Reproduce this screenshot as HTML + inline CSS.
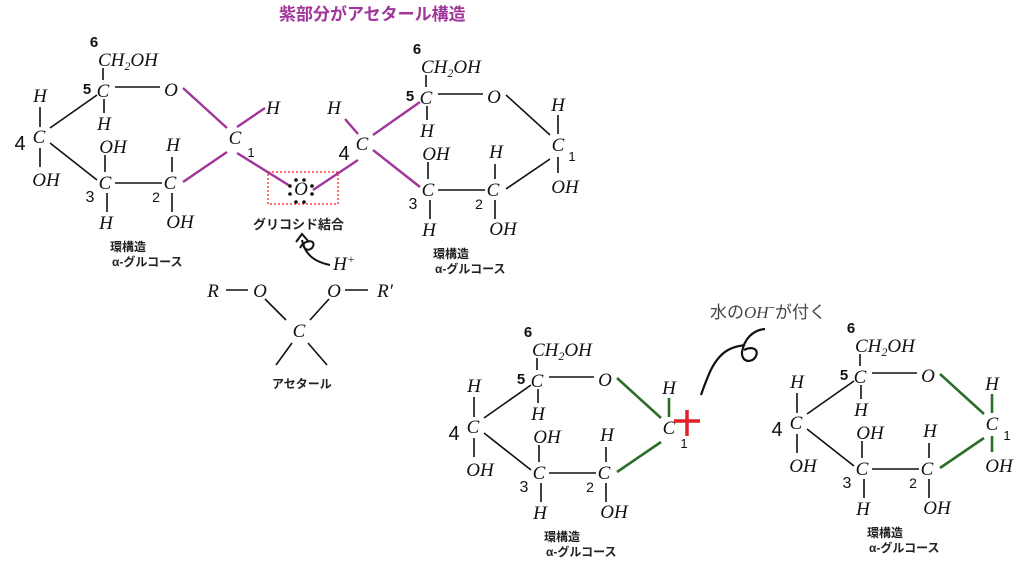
<!DOCTYPE html>
<html><head><meta charset="utf-8"><style>
html,body{margin:0;padding:0;background:#fff;}
svg{display:block}
.t{font-family:"Liberation Serif",serif;font-style:italic;font-size:19px;fill:#111;text-anchor:middle}
.n{font-family:"Liberation Sans",sans-serif;font-size:17px;fill:#111;text-anchor:middle;font-weight:bold}
.j{font-family:"Liberation Sans","Noto Sans CJK JP",sans-serif;font-size:12px;font-weight:bold;fill:#222}
line{stroke:#111;stroke-width:1.6}
.p{stroke:#a0359a;stroke-width:2.4}
.g{stroke:#2a6e2a;stroke-width:2.6}
.r{stroke:#e0202a;stroke-width:3.5}
</style></head><body>
<svg width="1024" height="583" viewBox="0 0 1024 583" xmlns="http://www.w3.org/2000/svg">
<defs>
<g id="core">
  <text class="n" x="94" y="47" style="font-size:15px">6</text>
  <text class="t" x="98" y="66" style="text-anchor:start">CH<tspan font-size="12" dy="4">2</tspan><tspan dy="-4">OH</tspan></text>
  <line x1="103" y1="68" x2="103" y2="80"/>
  <text class="t" x="103" y="97">C</text>
  <text class="n" x="87" y="94" style="font-size:15px">5</text>
  <line x1="115" y1="87" x2="160" y2="87"/>
  <text class="t" x="171" y="96">O</text>
  <line x1="104" y1="99" x2="104" y2="113"/>
  <text class="t" x="104" y="130">H</text>
  <text class="t" x="113" y="153">OH</text>
  <line x1="105" y1="155" x2="105" y2="172"/>
  <text class="t" x="105" y="189">C</text>
  <text class="n" x="90" y="202" style="font-size:16px;font-weight:normal">3</text>
  <line x1="107" y1="193" x2="107" y2="212"/>
  <text class="t" x="106" y="229">H</text>
  <line x1="115" y1="183" x2="162" y2="183"/>
  <text class="t" x="173" y="151">H</text>
  <line x1="172" y1="157" x2="172" y2="172"/>
  <text class="t" x="170" y="189">C</text>
  <text class="n" x="156" y="202" style="font-size:14px;font-weight:normal">2</text>
  <line x1="172" y1="193" x2="172" y2="212"/>
  <text class="t" x="180" y="228">OH</text>
  <text class="j" x="110" y="251">環構造</text>
  <text class="j" x="112" y="266">α-グルコース</text>
</g>
<g id="c4">
  <text class="t" x="40" y="102">H</text>
  <line x1="40" y1="107" x2="40" y2="127"/>
  <text class="t" x="39" y="143">C</text>
  <text class="n" x="20" y="150" style="font-size:20px;font-weight:normal">4</text>
  <line x1="40" y1="148" x2="40" y2="167"/>
  <text class="t" x="46" y="186">OH</text>
  <line x1="50" y1="128" x2="97" y2="95"/>
  <line x1="50" y1="143" x2="97" y2="180"/>
</g>
</defs>

<text x="279" y="20" style="font-family:'Liberation Sans','Noto Sans CJK JP',sans-serif;font-size:17px;font-weight:bold;fill:#a0359a">紫部分がアセタール構造</text>

<!-- top-left ring -->
<use href="#core"/><use href="#c4"/>
<line class="p" x1="183" y1="88" x2="227" y2="128"/>
<line class="p" x1="183" y1="182" x2="227" y2="152"/>
<text class="t" x="235" y="144">C</text>
<line class="p" x1="237" y1="127" x2="265" y2="108"/>
<text class="t" x="273" y="114">H</text>
<text class="n" x="251" y="157" style="font-size:13px;font-weight:normal">1</text>
<line class="p" x1="237" y1="153" x2="290" y2="186"/>
<rect x="268" y="172" width="70" height="32" fill="none" stroke="#e22" stroke-width="1.3" stroke-dasharray="2,2"/>
<text class="t" x="301" y="195">O</text>
<g fill="#111"><circle cx="296" cy="180" r="1.8"/><circle cx="304" cy="180" r="1.8"/><circle cx="296" cy="202" r="1.8"/><circle cx="304" cy="202" r="1.8"/><circle cx="290" cy="186" r="1.8"/><circle cx="290" cy="194" r="1.8"/><circle cx="312" cy="186" r="1.8"/><circle cx="312" cy="194" r="1.8"/></g>
<line class="p" x1="313" y1="190" x2="358" y2="160"/>
<text x="253" y="229" style="font-family:'Liberation Sans','Noto Sans CJK JP',sans-serif;font-size:13px;font-weight:bold;fill:#222">グリコシド結合</text>
<path d="M330,265 C315,262 305,255 302,240" fill="none" stroke="#111" stroke-width="2"/>
<path d="M296,242 L302,234 L309,242 M300,248 C305,238 318,240 312,248 C308,252 302,248 304,244" fill="none" stroke="#111" stroke-width="2"/>
<text class="t" x="344" y="270">H<tspan font-size="12" dy="-7">+</tspan></text>

<!-- top-right ring -->
<g transform="translate(323,7)"><use href="#core"/>
<line x1="183" y1="88" x2="227" y2="128"/>
<line x1="183" y1="182" x2="227" y2="152"/>
<text class="t" x="235" y="144">C</text>
<text class="t" x="235" y="104">H</text>
<line x1="235" y1="108" x2="235" y2="127"/>
<line x1="235" y1="150" x2="235" y2="166"/>
<text class="t" x="242" y="186">OH</text>
<text class="n" x="249" y="154" style="font-size:13px;font-weight:normal">1</text>
<text class="t" x="39" y="143">C</text>
</g>
<text class="t" x="334" y="114">H</text>
<line class="p" x1="345" y1="119" x2="358" y2="134"/>
<text class="n" x="344" y="160" style="font-size:20px;font-weight:normal">4</text>
<line class="p" x1="373" y1="135" x2="420" y2="102"/>
<line class="p" x1="373" y1="150" x2="420" y2="187"/>

<!-- acetal -->
<text class="t" x="213" y="297">R</text>
<line x1="226" y1="290" x2="248" y2="290"/>
<text class="t" x="260" y="297">O</text>
<text class="t" x="334" y="297">O</text>
<line x1="345" y1="290" x2="368" y2="290"/>
<text class="t" x="385" y="297">R′</text>
<line x1="265" y1="299" x2="286" y2="320"/>
<line x1="329" y1="299" x2="310" y2="320"/>
<text class="t" x="299" y="337">C</text>
<line x1="292" y1="343" x2="276" y2="365"/>
<line x1="308" y1="343" x2="327" y2="365"/>
<text class="j" x="272" y="388">アセタール</text>

<!-- bottom-left ring -->
<g transform="translate(434,290)"><use href="#core"/><use href="#c4"/>
<line class="g" x1="183" y1="88" x2="227" y2="128"/>
<line class="g" x1="183" y1="182" x2="227" y2="152"/>
<text class="t" x="235" y="144">C</text>
<text class="t" x="235" y="104">H</text>
<line class="g" x1="235" y1="108" x2="235" y2="127"/>
<text class="n" x="250" y="158" style="font-size:13px;font-weight:normal">1</text>
</g>
<line class="r" x1="687" y1="410" x2="687" y2="436"/>
<line class="r" x1="674" y1="421" x2="700" y2="421"/>
<text x="710" y="318" style="font-family:'Liberation Sans','Noto Sans CJK JP',sans-serif;font-size:17px;fill:#444">水の<tspan font-family="Liberation Serif" font-style="italic">OH</tspan><tspan font-size="11" dy="-7">−</tspan><tspan dy="7">が付く</tspan></text>
<path d="M701,395 C708,375 714,358 728,350 C735,346 740,346 745,345" fill="none" stroke="#111" stroke-width="2.2"/>
<path d="M765,329 C752,330 744,340 742,352 C741,362 752,364 756,356 C759,349 752,346 744,350" fill="none" stroke="#111" stroke-width="2.2"/>

<!-- bottom-right ring -->
<g transform="translate(757,286)"><use href="#core"/><use href="#c4"/>
<line class="g" x1="183" y1="88" x2="227" y2="128"/>
<line class="g" x1="183" y1="182" x2="227" y2="152"/>
<text class="t" x="235" y="144">C</text>
<text class="t" x="235" y="104">H</text>
<line class="g" x1="235" y1="108" x2="235" y2="127"/>
<line class="g" x1="235" y1="150" x2="235" y2="166"/>
<text class="t" x="242" y="186">OH</text>
<text class="n" x="250" y="154" style="font-size:13px;font-weight:normal">1</text>
</g>
</svg>
</body></html>
